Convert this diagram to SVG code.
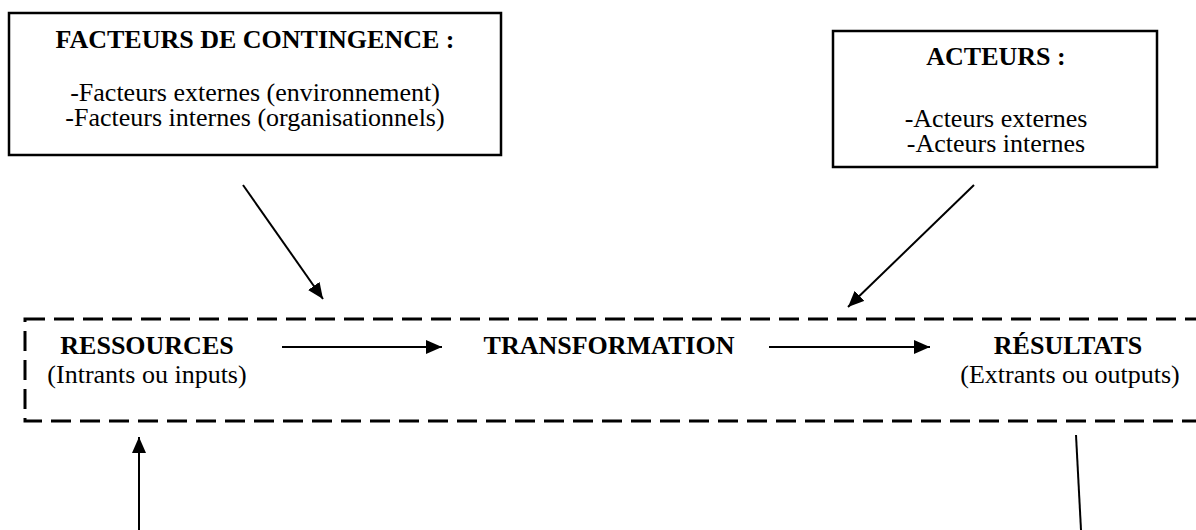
<svg xmlns="http://www.w3.org/2000/svg" width="1196" height="530" viewBox="0 0 1196 530">
  <style>
    text { font-family: "Liberation Serif", "Times New Roman", serif; font-size: 26px; fill: #000; }
    .b { font-weight: bold; }
    .box { fill: #fff; stroke: #000; stroke-width: 2.5; }
    .dash { fill: none; stroke: #000; stroke-width: 3; stroke-dasharray: 20 9; }
    .conn { stroke: #000; stroke-width: 2; fill: none; }
  </style>
  <defs>
    <marker id="ah" markerUnits="userSpaceOnUse" markerWidth="18" markerHeight="14" refX="16" refY="7" orient="auto">
      <path d="M0,0 L16,7 L0,14 Z" fill="#000"/>
    </marker>
  </defs>
  <rect width="1196" height="530" fill="#fff"/>

  <g id="contingence">
    <rect class="box" x="9" y="13" width="492" height="142"/>
    <text class="b" x="255" y="48" text-anchor="middle">FACTEURS DE CONTINGENCE :</text>
    <text x="255" y="101" text-anchor="middle">-Facteurs externes (environnement)</text>
    <text x="255" y="126" text-anchor="middle">-Facteurs internes (organisationnels)</text>
  </g>

  <g id="acteurs">
    <rect class="box" x="833" y="31" width="324" height="136"/>
    <text class="b" x="996" y="65" text-anchor="middle">ACTEURS :</text>
    <text x="996" y="127" text-anchor="middle">-Acteurs externes</text>
    <text x="996" y="152" text-anchor="middle">-Acteurs internes</text>
  </g>

  <g id="systeme">
    <rect class="dash" x="25" y="319" width="1190" height="102"/>
  </g>

  <g id="ressources">
    <text class="b" x="147" y="354" text-anchor="middle">RESSOURCES</text>
    <text x="147" y="383" text-anchor="middle">(Intrants ou inputs)</text>
  </g>

  <g id="transformation">
    <text class="b" x="609" y="354" text-anchor="middle">TRANSFORMATION</text>
  </g>

  <g id="resultats">
    <text class="b" x="1068" y="354" text-anchor="middle">RÉSULTATS</text>
    <text x="1070" y="383" text-anchor="middle">(Extrants ou outputs)</text>
  </g>

  <g id="connectors">
    <line class="conn" x1="243" y1="185" x2="323" y2="299" marker-end="url(#ah)"/>
    <line class="conn" x1="974" y1="185" x2="848" y2="307" marker-end="url(#ah)"/>
    <line class="conn" x1="282" y1="347" x2="442" y2="347" marker-end="url(#ah)"/>
    <line class="conn" x1="769" y1="347" x2="930" y2="347" marker-end="url(#ah)"/>
    <line class="conn" x1="139" y1="530" x2="139" y2="437" marker-end="url(#ah)"/>
    <line class="conn" x1="1076" y1="435" x2="1081" y2="530"/>
  </g>
</svg>
